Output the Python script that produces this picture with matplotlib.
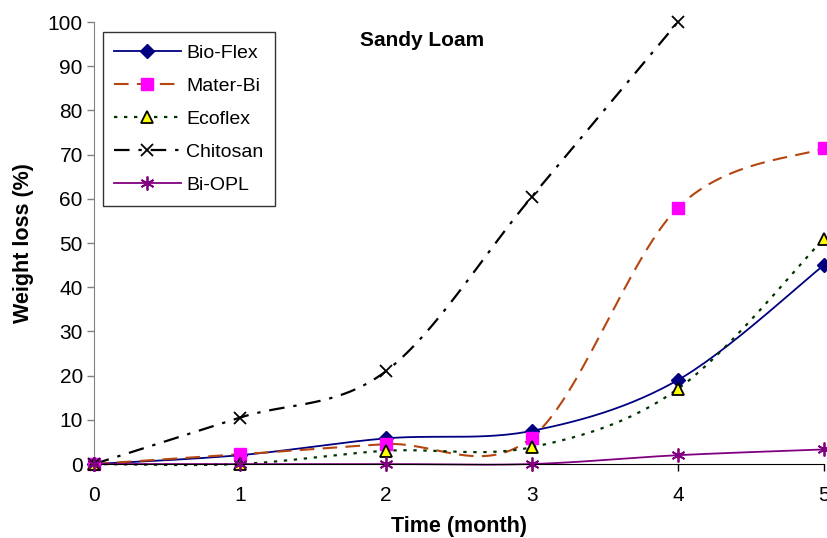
import numpy as np
import matplotlib
matplotlib.use("Agg")
import matplotlib.pyplot as plt

plt.rcParams['font.family'] = ['Liberation Sans', 'DejaVu Sans']

months = [0, 1, 2, 3, 4, 5]
bio_flex = [0, 2.0, 5.8, 7.5, 19.0, 45.0]
mater_bi = [0, 2.2, 4.5, 6.0, 58.0, 71.5]
ecoflex = [0, 0, 3.0, 3.8, 17.0, 51.0]
chitosan_months = [0, 1, 2, 3, 4]
chitosan = [0, 10.5, 21.0, 60.5, 100.0]
bi_opl = [0, 0, 0, 0, 2.0, 3.3]


def smooth(x, y, n=30):
    # Excel-style smoothed line (cubic Bezier through points)
    x = np.asarray(x, float)
    y = np.asarray(y, float)
    P = np.column_stack([x, y])
    out = []
    m = len(P)
    for i in range(m - 1):
        p0 = P[i - 1] if i > 0 else P[i]
        p1 = P[i]
        p2 = P[i + 1]
        p3 = P[i + 2] if i + 2 < m else P[i + 1]
        c1 = p1 + (p2 - p0) / 6.0
        c2 = p2 - (p3 - p1) / 6.0
        t = np.linspace(0, 1, n)[:, None]
        seg = ((1 - t) ** 3) * p1 + 3 * ((1 - t) ** 2) * t * c1 + 3 * (1 - t) * t ** 2 * c2 + t ** 3 * p2
        if i > 0:
            seg = seg[1:]
        out.append(seg)
    s = np.vstack(out)
    return s[:, 0], s[:, 1]


fig = plt.figure(figsize=(8.28, 5.38), dpi=100)
ax = fig.add_axes([0.1135, 0.1375, 0.8815, 0.8215])

series = [
    (months, bio_flex, 'Bio-Flex', dict(color='#000080', ls='-', lw=1.3),
     dict(marker='D', ms=7, mfc='#000080', mec='#000080')),
    (months, mater_bi, 'Mater-Bi', dict(color='#B5460F', ls=(0, (7, 4)), lw=1.5),
     dict(marker='s', ms=8, mfc='#FF00FF', mec='#FF00FF')),
    (months, ecoflex, 'Ecoflex', dict(color='#003300', ls=(0, (1.5, 3)), lw=1.6),
     dict(marker='^', ms=9, mfc='#FFFF00', mec='black', mew=1.3)),
    (chitosan_months, chitosan, 'Chitosan', dict(color='black', ls=(0, (7, 4, 1.5, 4)), lw=1.6),
     dict(marker='x', ms=9, mfc='none', mec='black', mew=1.3)),
    (months, bi_opl, 'Bi-OPL', dict(color='#800080', ls='-', lw=1.3),
     dict(marker=(6, 2, 0), ms=10, mfc='none', mec='#800080', mew=1.3)),
]

handles = []
for x, y, label, lstyle, mstyle in series:
    sx, sy = smooth(x, y)
    ax.plot(sx, sy, zorder=2, clip_on=False, **lstyle)
    ax.plot(x, y, ls='none', zorder=3, clip_on=False, **mstyle)
    h, = ax.plot([], [], label=label, **lstyle, **mstyle)
    handles.append(h)

ax.set_xlim(0, 5)
ax.set_ylim(0, 100)
ax.set_xticks(range(0, 6))
ax.set_yticks(range(0, 101, 10))
ax.tick_params(axis='both', labelsize=15, direction='out', length=5, width=1)
ax.tick_params(axis='x', pad=11)
ax.tick_params(axis='y', colors='#808080', labelcolor='black', pad=3)
ax.spines['top'].set_visible(False)
ax.spines['right'].set_visible(False)
ax.spines['left'].set_color('#808080')
ax.spines['bottom'].set_color('black')

ax.set_xlabel('Time (month)', fontsize=15.5, fontweight='bold', labelpad=8)
ax.set_ylabel('Weight loss (%)', fontsize=15.5, fontweight='bold', labelpad=10)
ax.text(0.449, 0.959, 'Sandy Loam', transform=ax.transAxes, ha='center', va='center',
        fontsize=15, fontweight='bold')

leg = ax.legend(handles=handles, loc='upper left', bbox_to_anchor=(0.012, 0.977),
                fontsize=14, frameon=True, fancybox=False, edgecolor='black',
                handlelength=3.4, labelspacing=0.8, borderpad=0.6, handletextpad=0.3,
                borderaxespad=0)
leg.get_frame().set_linewidth(1.0)

fig.savefig('out.png', dpi=100)
